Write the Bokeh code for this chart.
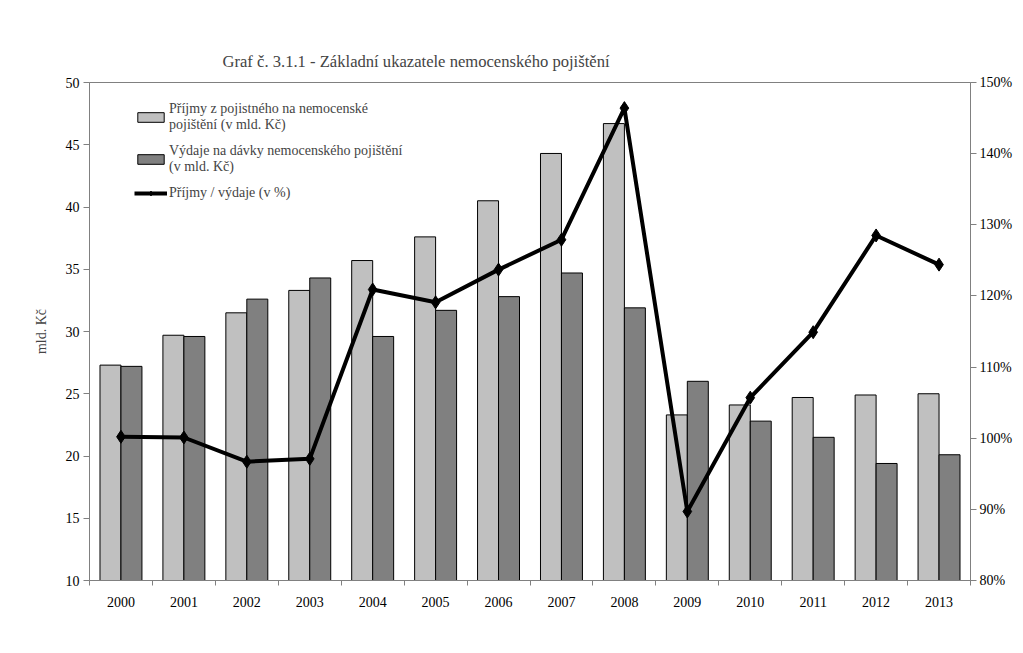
from bokeh.plotting import figure
from bokeh.models import (Range1d, LinearAxis, FixedTicker, PrintfTickFormatter,
                          Legend, LegendItem, ColumnDataSource)
from bokeh.transform import dodge
from bokeh.embed import file_html
from bokeh.resources import INLINE

years = ["2000", "2001", "2002", "2003", "2004", "2005", "2006",
         "2007", "2008", "2009", "2010", "2011", "2012", "2013"]
prijmy = [27.3, 29.7, 31.5, 33.3, 35.7, 37.6, 40.5,
          44.3, 46.7, 23.3, 24.1, 24.7, 24.9, 25.0]
vydaje = [27.2, 29.6, 32.6, 34.3, 29.6, 31.7, 32.8,
          34.7, 31.9, 26.0, 22.8, 21.5, 19.4, 20.1]
pomer = [100.2, 100.1, 96.7, 97.1, 120.9, 119.1, 123.7,
         127.9, 146.4, 89.7, 105.7, 114.9, 128.5, 124.4]
left_ticks = [10, 15, 20, 25, 30, 35, 40, 45, 50]
right_ticks = [80, 90, 100, 110, 120, 130, 140, 150]

title_text = "Graf č. 3.1.1 - Základní ukazatele nemocenského pojištění"
label_prijmy = "Příjmy z pojistného na nemocenské\npojištění (v mld. Kč)"
label_vydaje = "Výdaje na dávky nemocenského pojištění\n(v mld. Kč)"
label_pomer = "Příjmy / výdaje (v %)"
y_label = "mld. Kč"

FONT = "Liberation Serif"
AXIS_GRAY = "#808080"

centers = [i + 0.5 for i in range(len(years))]
src = ColumnDataSource(dict(x=centers, prijmy=prijmy, vydaje=vydaje, pomer=pomer))

p = figure(width=1015, height=645, output_backend="svg", toolbar_location=None,
           x_range=Range1d(0, len(years)), y_range=Range1d(left_ticks[0], left_ticks[-1]),
           min_border_left=89, min_border_right=45, min_border_top=82, min_border_bottom=65)
p.extra_y_ranges = {"pct": Range1d(right_ticks[0], right_ticks[-1])}

p.title.text = title_text
p.title.text_font = FONT
p.title.text_font_size = "16.6px"
p.title.text_font_style = "normal"
p.title.align = "left"
p.title.offset = 133
p.title.standoff = 24

p.xgrid.visible = False
p.ygrid.visible = False
p.outline_line_color = AXIS_GRAY
p.background_fill_color = "white"
p.border_fill_color = "white"

r1 = p.vbar(x=dodge("x", -1/6), top="prijmy", bottom=left_ticks[0], width=1/3, source=src,
            fill_color="#C0C0C0", line_color="black", line_width=1)
r2 = p.vbar(x=dodge("x", 1/6), top="vydaje", bottom=left_ticks[0], width=1/3, source=src,
            fill_color="#808080", line_color="black", line_width=1)
r3 = p.line(x="x", y="pomer", source=src, y_range_name="pct", line_color="black",
            line_width=4, line_join="round")
r4 = p.scatter(x="x", y="pomer", source=src, y_range_name="pct", marker="diamond",
               size=13, fill_color="black", line_color="black")

# x axis: labels at centers, ticks between categories
xa = p.xaxis[0]
xa.ticker = FixedTicker(ticks=centers, minor_ticks=list(range(len(years) + 1)))
xa.major_label_overrides = {c: y for c, y in zip(centers, years)}
xa.major_tick_out = 0
xa.major_tick_in = 0
xa.minor_tick_out = 5
xa.minor_tick_in = 0
xa.minor_tick_line_color = AXIS_GRAY
xa.axis_line_color = AXIS_GRAY
xa.major_label_text_font = FONT
xa.major_label_text_font_size = "14px"
xa.major_label_text_color = "black"
xa.major_label_standoff = 11

ya = p.yaxis[0]
ya.ticker = FixedTicker(ticks=left_ticks)
ya.minor_tick_line_color = None
ya.major_tick_out = 6
ya.major_tick_in = 0
ya.major_tick_line_color = AXIS_GRAY
ya.axis_line_color = AXIS_GRAY
ya.major_label_text_font = FONT
ya.major_label_text_font_size = "14px"
ya.major_label_text_color = "black"
ya.major_label_standoff = 4
ya.axis_label = y_label
ya.axis_label_text_font = FONT
ya.axis_label_text_font_size = "14px"
ya.axis_label_text_font_style = "normal"
ya.axis_label_standoff = 14

ra = LinearAxis(y_range_name="pct", ticker=FixedTicker(ticks=right_ticks),
                formatter=PrintfTickFormatter(format="%d%%"))
ra.minor_tick_line_color = None
ra.major_tick_out = 6
ra.major_tick_in = 0
ra.major_tick_line_color = AXIS_GRAY
ra.axis_line_color = AXIS_GRAY
ra.major_label_text_font = FONT
ra.major_label_text_font_size = "14px"
ra.major_label_text_color = "black"
ra.major_label_standoff = 3
p.add_layout(ra, "right")

legend = Legend(items=[
    LegendItem(label=label_prijmy, renderers=[r1]),
    LegendItem(label=label_vydaje, renderers=[r2]),
    LegendItem(label=label_pomer, renderers=[r3, r4]),
], location=(45, 379))
legend.label_text_font = FONT
legend.label_text_font_size = "14px"
legend.label_text_line_height = 1.3
legend.label_standoff = 2
legend.glyph_width = 33
legend.glyph_height = 12
legend.spacing = 10
legend.padding = 6
legend.border_line_color = None
legend.background_fill_alpha = 0
p.add_layout(legend)

open("out.html", "w").write(file_html(p, INLINE))
